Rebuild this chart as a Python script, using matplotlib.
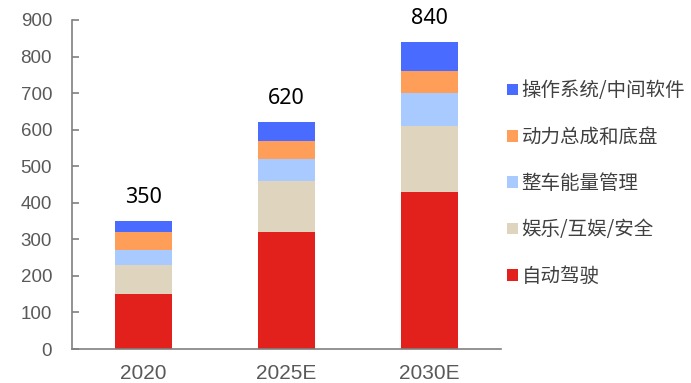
import numpy as np
import matplotlib.pyplot as plt

plt.rcParams['font.family'] = ['Noto Sans CJK SC', 'DejaVu Sans']

# Données
years = ['2020', '2025E', '2030E']
totals = [350, 620, 840]
series_names = ['自动驾驶', '娱乐/互娱/安全', '整车能量管理', '动力总成和底盘', '操作系统/中间软件']
auto_drive = [150, 320, 430]
entertainment = [80, 140, 180]
energy_mgmt = [40, 60, 90]
powertrain = [50, 50, 60]
os_middleware = [30, 50, 80]
colors = ['#E2211C', '#DFD5BF', '#A8CAFF', '#FF9E59', '#4A6BFF']

values = [auto_drive, entertainment, energy_mgmt, powertrain, os_middleware]

fig = plt.figure(figsize=(6.91, 3.83), dpi=100)
ax = fig.add_axes([72 / 691, 1 - 349 / 383, (501 - 72) / 691, 329 / 383])

x = np.arange(len(years))
bottom = np.zeros(len(years))
handles = []
for name, vals, c in zip(series_names, values, colors):
    b = ax.bar(x, vals, width=0.4, bottom=bottom, color=c, label=name)
    handles.append(b)
    bottom += np.array(vals)

# Totaux au-dessus des barres
for xi, tot in zip(x, totals):
    ax.text(xi, tot + 49, str(tot), ha='center', va='baseline', fontsize=15.5, color='black',
            family=['Noto Sans', 'DejaVu Sans'])

ax.set_xlim(-0.5, 2.5)
ax.set_ylim(0, 900)
ax.set_yticks(np.arange(0, 901, 100))
ax.set_xticks(x)
ax.set_xticklabels(years)
for lab in ax.get_yticklabels():
    lab.set_family(['Liberation Sans', 'DejaVu Sans'])
    lab.set_fontsize(13.5)
    lab.set_color('#595959')
for lab in ax.get_xticklabels():
    lab.set_family(['Liberation Sans', 'DejaVu Sans'])
    lab.set_fontsize(15)
    lab.set_color('#595959')
ax.tick_params(axis='x', length=0, pad=11)
ax.tick_params(axis='y', length=5, width=1.2, color='#808080', direction='in', pad=20 * 0.72)

for s in ['top', 'right']:
    ax.spines[s].set_visible(False)
for s in ['left', 'bottom']:
    ax.spines[s].set_color('#808080')
    ax.spines[s].set_linewidth(1.2)

leg = fig.legend(handles[::-1], series_names[::-1], loc='center left',
                 bbox_to_anchor=(507 / 691, 1 - 183.5 / 383), frameon=False,
                 fontsize=14, handlelength=0.55, handleheight=0.55,
                 handletextpad=0.2, labelspacing=1.3, borderpad=0, borderaxespad=0)
for t in leg.get_texts():
    t.set_color('#404040')

fig.savefig('out.png', dpi=100)
